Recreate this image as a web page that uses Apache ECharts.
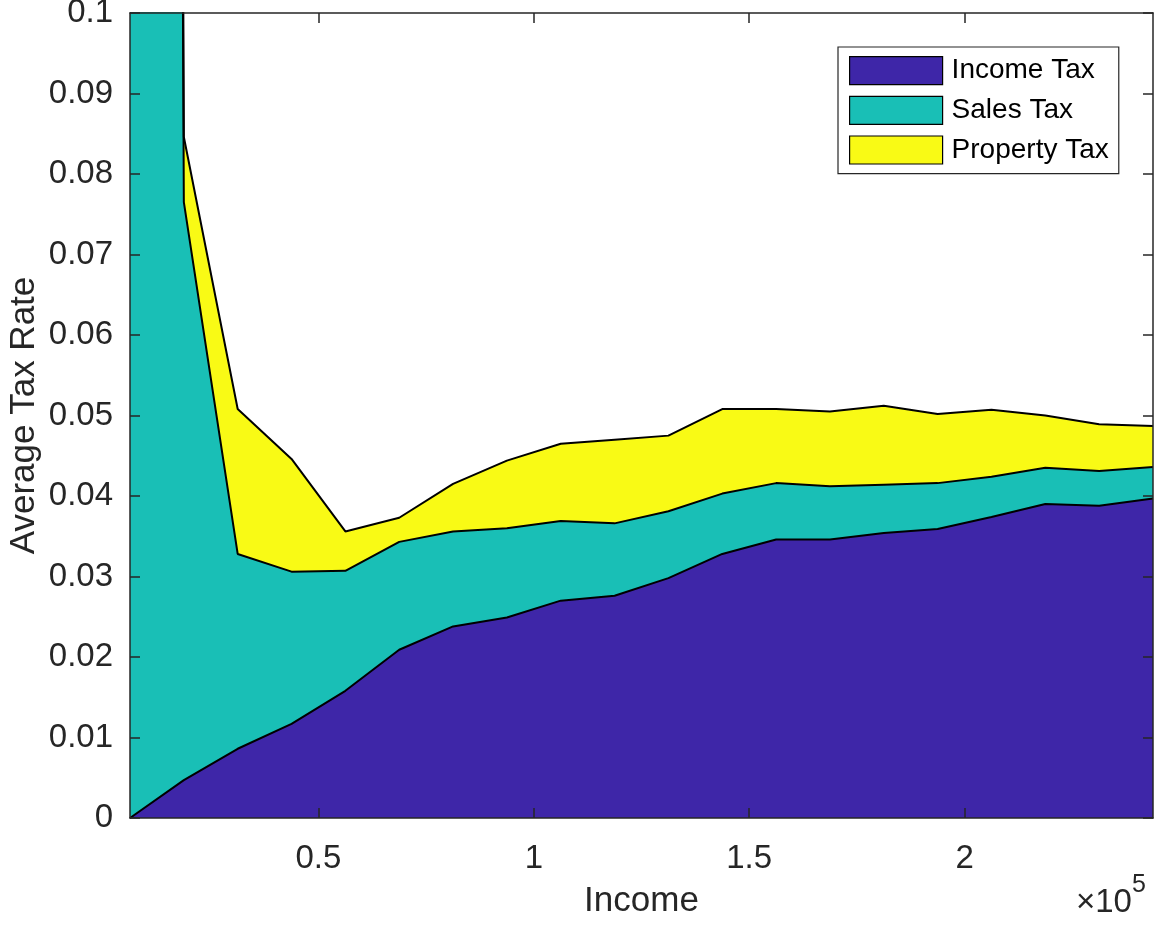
<!DOCTYPE html>
<html>
<head>
<meta charset="utf-8">
<title>Average Tax Rate by Income</title>
<script src="https://cdn.jsdelivr.net/npm/echarts@6/dist/echarts.min.js"></script>
<style>
  html, body { margin: 0; padding: 0; background: #fff; }
  #chart { width: 1160px; height: 926px; }
</style>
</head>
<body>
<div id="chart"></div>
<script>
// Income bracket midpoints (dollars)
const incomeLevels = [6250, 18750, 31250, 43750, 56250, 68750, 81250, 93750, 106250, 118750,
                      131250, 143750, 156250, 168750, 181250, 193750, 206250, 218750, 231250, 243750];

// Average tax rate components, stacked in this order
const incomeTax   = [0, 0.0047, 0.0086, 0.0117, 0.0158, 0.0209, 0.0238, 0.0249, 0.0270, 0.0276,
                     0.0298, 0.0328, 0.0346, 0.0346, 0.0354, 0.0359, 0.0374, 0.0390, 0.0388, 0.0397];
const salesTax    = [1.5, 0.0718, 0.0242, 0.0189, 0.0149, 0.0134, 0.0118, 0.0111, 0.0099, 0.0090,
                     0.0083, 0.0075, 0.0070, 0.0066, 0.0060, 0.0057, 0.0050, 0.0045, 0.0043, 0.0039];
const propertyTax = [0.25, 0.0081, 0.0180, 0.0140, 0.0049, 0.0030, 0.0059, 0.0084, 0.0096, 0.0104,
                     0.0094, 0.0105, 0.0092, 0.0093, 0.0098, 0.0086, 0.0083, 0.0065, 0.0058, 0.0051];

const seriesNames = ['Income Tax', 'Sales Tax', 'Property Tax'];
const seriesColors = ['#3e26a8', '#19bfb6', '#f9fa15'];
const xTickValues = [50000, 100000, 150000, 200000];

const AXIS_COLOR = '#262626';
const FONT = '"Liberation Sans", Arial, Helvetica, sans-serif';

const chart = echarts.init(document.getElementById('chart'), null, { renderer: 'canvas' });

// Running totals: each layer's upper edge is the sum of itself and the layers below.
const components = [incomeTax, salesTax, propertyTax];
const cumulative = components.map((_, layer) =>
  incomeLevels.map((x, i) => {
    let sum = 0;
    for (let k = 0; k <= layer; k++) sum += components[k][i];
    return [x, sum];
  })
);

const xMin = incomeLevels[0];
const xMax = incomeLevels[incomeLevels.length - 1];

const axisLineStyle = { color: AXIS_COLOR, width: 1.5 };

// Upper layers are filled down to zero first; lower layers are painted over them.
const layerSeries = components.map((_, i) => ({
  name: seriesNames[i],
  type: 'line',
  xAxisIndex: 0, yAxisIndex: 0,
  data: cumulative[i],
  symbol: 'none',
  clip: true,
  z: 2,
  itemStyle: { color: seriesColors[i] },
  lineStyle: { color: '#000000', width: 2 },
  areaStyle: { color: seriesColors[i], opacity: 1, origin: 'start' },
  emphasis: { disabled: true }
})).reverse();

const option = {
  animation: false,
  backgroundColor: '#ffffff',
  grid: { left: 130, right: 7, top: 13, bottom: 108, containLabel: false, outerBoundsMode: 'none' },
  xAxis: [
    {
      type: 'value', min: xMin, max: xMax, position: 'bottom', z: 10,
      name: 'Income', nameLocation: 'middle', nameGap: 66, nameMoveOverlap: false,
      nameTextStyle: { fontFamily: FONT, fontSize: 35, color: AXIS_COLOR },
      axisLine: { show: true, onZero: false, lineStyle: axisLineStyle },
      axisTick: { show: true, inside: true, length: 10, customValues: xTickValues, lineStyle: axisLineStyle },
      axisLabel: {
        show: true, customValues: xTickValues, margin: 24,
        fontFamily: FONT, fontSize: 33, color: AXIS_COLOR,
        formatter: v => String(Math.round(v / 1000) / 100)
      },
      splitLine: { show: false }
    },
    {
      type: 'value', min: xMin, max: xMax, position: 'top', z: 10,
      axisLine: { show: true, onZero: false, lineStyle: axisLineStyle },
      axisTick: { show: true, inside: true, length: 10, customValues: xTickValues, lineStyle: axisLineStyle },
      axisLabel: { show: false },
      splitLine: { show: false }
    }
  ],
  yAxis: [
    {
      type: 'value', min: 0, max: 0.1, interval: 0.01, position: 'left', z: 10,
      name: 'Average Tax Rate', nameLocation: 'middle', nameGap: 88, nameMoveOverlap: false,
      nameTextStyle: { fontFamily: FONT, fontSize: 35, color: AXIS_COLOR },
      axisLine: { show: true, onZero: false, lineStyle: axisLineStyle },
      axisTick: { show: true, inside: true, length: 10, lineStyle: axisLineStyle },
      axisLabel: {
        show: true, margin: 17, fontFamily: FONT, fontSize: 33, color: AXIS_COLOR,
        formatter: v => String(Math.round(v * 100) / 100)
      },
      splitLine: { show: false }
    },
    {
      type: 'value', min: 0, max: 0.1, interval: 0.01, position: 'right', z: 10,
      axisLine: { show: true, onZero: false, lineStyle: axisLineStyle },
      axisTick: { show: true, inside: true, length: 10, lineStyle: axisLineStyle },
      axisLabel: { show: false },
      splitLine: { show: false }
    }
  ],
  legend: {
    orient: 'vertical',
    left: 838, top: 47,
    icon: 'rect',
    itemWidth: 93, itemHeight: 28, itemGap: 10.5,
    padding: [9, 10, 9, 11],
    backgroundColor: '#ffffff',
    borderColor: AXIS_COLOR, borderWidth: 1.2, borderRadius: 0,
    itemStyle: { borderColor: '#000000', borderWidth: 1.2 },
    textStyle: { fontFamily: FONT, fontSize: 28, color: '#000000', padding: [0, 0, 0, 4] },
    data: seriesNames,
    selectedMode: false,
    z: 20
  },
  series: layerSeries,
  graphic: [
    {
      type: 'text', left: 1076, top: 886, z: 30,
      style: {
        text: '×10', font: '33px ' + FONT, fill: AXIS_COLOR
      }
    },
    {
      type: 'text', left: 1132, top: 873, z: 30,
      style: {
        text: '5', font: '25px ' + FONT, fill: AXIS_COLOR
      }
    }
  ]
};

chart.setOption(option);
</script>
</body>
</html>
